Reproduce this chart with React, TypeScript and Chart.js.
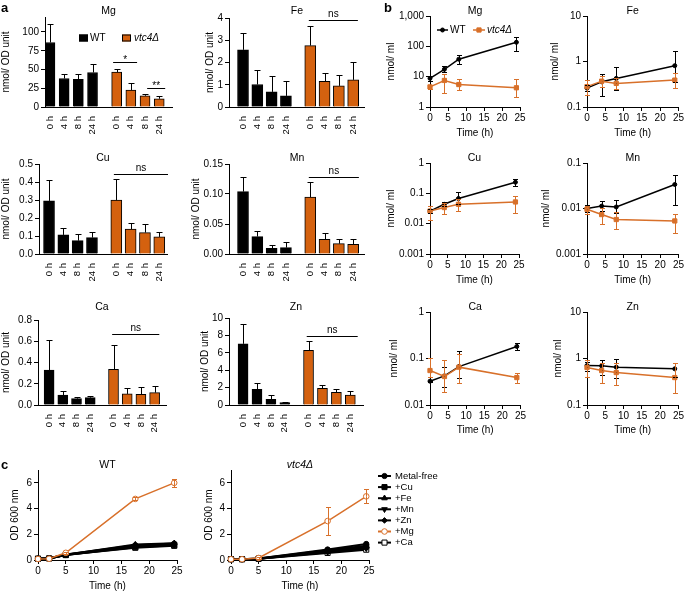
import React, { useEffect, useRef } from 'react';
import { Chart, registerables } from 'chart.js';

Chart.register(...registerables);

const FONT = '"Liberation Sans", Arial, Helvetica, sans-serif';
const BLACK = '#000000';
const ORANGE = '#D4610F';
const ORANGE_LINE = '#D8702A';
const TICK_SIZE = 10;
const LABEL_SIZE = 10;
const TITLE_SIZE = 10.5;

// ---------------- Panel a: cellular metal content (nmol / OD unit) ----------------
const BAR_TIMES = ['0 h', '4 h', '8 h', '24 h'];
const GROUP_GAP = 0.7;
const A_YTITLE = 'nmol/ OD unit';

const A_MG_WT = [86, 38, 37, 46];
const A_MG_WT_ERR = [25, 6, 7, 11];
const A_MG_VTC = [46.5, 22.5, 15, 11];
const A_MG_VTC_ERR = [4, 9, 3, 3.5];
const A_MG_YTICKS = [0, 25, 50, 75, 100];
const A_MG_YLABELS = ['0', '25', '50', '75', '100'];

const A_FE_WT = [2.57, 1.01, 0.68, 0.5];
const A_FE_WT_ERR = [0.75, 0.65, 0.71, 0.66];
const A_FE_VTC = [2.76, 1.15, 0.95, 1.22];
const A_FE_VTC_ERR = [0.9, 0.37, 0.5, 0.8];
const A_FE_YTICKS = [0, 1, 2, 3, 4];
const A_FE_YLABELS = ['0', '1', '2', '3', '4'];

const A_CU_WT = [0.295, 0.106, 0.074, 0.091];
const A_CU_WT_ERR = [0.115, 0.037, 0.037, 0.03];
const A_CU_VTC = [0.299, 0.138, 0.119, 0.095];
const A_CU_VTC_ERR = [0.117, 0.033, 0.046, 0.026];
const A_CU_YTICKS = [0, 0.1, 0.2, 0.3, 0.4, 0.5];
const A_CU_YLABELS = ['0.0', '0.1', '0.2', '0.3', '0.4', '0.5'];

const A_MN_WT = [0.104, 0.029, 0.0095, 0.0106];
const A_MN_WT_ERR = [0.024, 0.01, 0.0055, 0.009];
const A_MN_VTC = [0.095, 0.0245, 0.0172, 0.0162];
const A_MN_VTC_ERR = [0.025, 0.01, 0.0084, 0.0094];
const A_MN_YTICKS = [0, 0.05, 0.1, 0.15];
const A_MN_YLABELS = ['0.00', '0.05', '0.10', '0.15'];

const A_CA_WT = [0.329, 0.094, 0.06, 0.069];
const A_CA_WT_ERR = [0.283, 0.041, 0.015, 0.013];
const A_CA_VTC = [0.336, 0.104, 0.1, 0.116];
const A_CA_VTC_ERR = [0.232, 0.059, 0.066, 0.063];
const A_CA_YTICKS = [0, 0.2, 0.4, 0.6, 0.8];
const A_CA_YLABELS = ['0.0', '0.2', '0.4', '0.6', '0.8'];

const A_ZN_WT = [7.03, 1.81, 0.65, 0.27];
const A_ZN_WT_ERR = [2.31, 0.77, 0.46, 0.07];
const A_ZN_VTC = [6.27, 1.92, 1.46, 1.15];
const A_ZN_VTC_ERR = [1.08, 0.43, 0.39, 0.43];
const A_ZN_YTICKS = [0, 2, 4, 6, 8, 10];
const A_ZN_YLABELS = ['0', '2', '4', '6', '8', '10'];

// ---------------- Panel b: extracellular metal (nmol / ml), log scale ----------------
const B_TIMES = [0, 4, 8, 24];
const B_XTICKS = [0, 5, 10, 15, 20, 25];
const B_XLABELS = ['0', '5', '10', '15', '20', '25'];
const B_YTITLE = 'nmol/ ml';
const TIME_TITLE = 'Time (h)';

const B_MG_WT = [8.8, 17.5, 37.7, 136];
const B_MG_WT_HI = [10.9, 22.7, 52.5, 200];
const B_MG_WT_LO = [7.0, 14.2, 25.8, 71];
const B_MG_VTC = [4.6, 7.5, 5.5, 4.3];
const B_MG_VTC_HI = [5.5, 11.9, 8.1, 8.6];
const B_MG_VTC_LO = [4.0, 2.8, 3.6, 2.1];
const B_MG_YTICKS = [1, 10, 100, 1000];
const B_MG_YLABELS = ['1', '10', '100', '1,000'];

const B_FE_WT = [0.26, 0.358, 0.425, 0.81];
const B_FE_WT_HI = [0.3, 0.544, 0.757, 1.68];
const B_FE_WT_LO = [0.22, 0.178, 0.237, 0.358];
const B_FE_VTC = [0.28, 0.37, 0.33, 0.39];
const B_FE_VTC_HI = [0.39, 0.476, 0.437, 0.545];
const B_FE_VTC_LO = [0.185, 0.279, 0.249, 0.258];
const B_FE_YTICKS = [0.1, 1, 10];
const B_FE_YLABELS = ['0.1', '1', '10'];

const B_CU_WT = [0.026, 0.0435, 0.0675, 0.232];
const B_CU_WT_HI = [0.03, 0.052, 0.107, 0.299];
const B_CU_WT_LO = [0.022, 0.038, 0.0435, 0.17];
const B_CU_VTC = [0.026, 0.034, 0.0435, 0.052];
const B_CU_VTC_HI = [0.038, 0.0497, 0.0638, 0.0787];
const B_CU_VTC_LO = [0.0137, 0.0202, 0.026, 0.0229];
const B_CU_YTICKS = [0.001, 0.01, 0.1, 1];
const B_CU_YLABELS = ['0.001', '0.01', '0.1', '1'];

const B_MN_WT = [0.01, 0.0113, 0.0108, 0.0337];
const B_MN_WT_HI = [0.0117, 0.0144, 0.0151, 0.055];
const B_MN_WT_LO = [0.0084, 0.0088, 0.008, 0.0122];
const B_MN_VTC = [0.0096, 0.00736, 0.00573, 0.00533];
const B_MN_VTC_HI = [0.0112, 0.0105, 0.00826, 0.00774];
const B_MN_VTC_LO = [0.0075, 0.00468, 0.00346, 0.00292];
const B_MN_YTICKS = [0.001, 0.01, 0.1];
const B_MN_YLABELS = ['0.001', '0.01', '0.1'];

const B_CA_WT = [0.0325, 0.0423, 0.0671, 0.1816];
const B_CA_WT_HI = [0.0335, 0.0671, 0.1416, 0.215];
const B_CA_WT_LO = [0.0315, 0.0248, 0.0377, 0.154];
const B_CA_VTC = [0.0551, 0.041, 0.0652, 0.0389];
const B_CA_VTC_HI = [0.102, 0.0938, 0.126, 0.0499];
const B_CA_VTC_LO = [0.041, 0.0194, 0.0294, 0.0294];
const B_CA_YTICKS = [0.01, 0.1, 1];
const B_CA_YLABELS = ['0.01', '0.1', '1'];

const B_ZN_WT = [0.706, 0.695, 0.652, 0.6];
const B_ZN_WT_HI = [0.85, 0.938, 0.97, 0.794];
const B_ZN_WT_LO = [0.55, 0.445, 0.378, 0.41];
const B_ZN_VTC = [0.64, 0.551, 0.498, 0.389];
const B_ZN_VTC_HI = [0.938, 0.82, 0.794, 0.794];
const B_ZN_VTC_LO = [0.41, 0.294, 0.27, 0.179];
const B_ZN_YTICKS = [0.1, 1, 10];
const B_ZN_YLABELS = ['0.1', '1', '10'];

// ---------------- Panel c: growth (OD 600 nm) ----------------
const C_TIMES = [0, 2, 5, 17.5, 24.5];
const C_XTICKS = [0, 5, 10, 15, 20, 25];
const C_XLABELS = ['0', '5', '10', '15', '20', '25'];
const C_YTICKS = [0, 2, 4, 6];
const C_YLABELS = ['0', '2', '4', '6'];
const C_YTITLE = 'OD 600 nm';
const C_SERIES = ['Metal-free', '+Cu', '+Fe', '+Mn', '+Zn', '+Mg', '+Ca'];

const C_WT_FREE = [0.1, 0.13, 0.42, 1.15, 1.28];
const C_WT_CU = [0.1, 0.12, 0.38, 1.0, 1.15];
const C_WT_FE = [0.1, 0.13, 0.4, 1.2, 1.3];
const C_WT_MN = [0.1, 0.12, 0.4, 1.1, 1.22];
const C_WT_ZN = [0.1, 0.12, 0.38, 1.05, 1.18];
const C_WT_MG = [0.08, 0.1, 0.56, 4.75, 6.0];
const C_WT_MG_ERR = [0, 0, 0.08, 0.12, 0.3];
const C_WT_CA = [0.1, 0.12, 0.4, 0.95, 1.1];

const C_VTC_FREE = [0.06, 0.06, 0.12, 0.82, 1.25];
const C_VTC_CU = [0.06, 0.06, 0.1, 0.7, 1.05];
const C_VTC_FE = [0.06, 0.06, 0.12, 0.75, 1.1];
const C_VTC_MN = [0.06, 0.06, 0.1, 0.6, 0.9];
const C_VTC_ZN = [0.06, 0.06, 0.1, 0.65, 0.95];
const C_VTC_MG = [0.06, 0.06, 0.16, 3.03, 4.95];
const C_VTC_MG_ERR = [0, 0, 0.05, 1.06, 0.55];
const C_VTC_CA = [0.06, 0.06, 0.1, 0.55, 0.8];

// marker styles for panel c series (same order as C_SERIES)
const C_STYLES = [
  { pointStyle: 'circle', rotation: 0, filled: true, color: BLACK, r: 2.6 },
  { pointStyle: 'rect', rotation: 0, filled: true, color: BLACK, r: 3.6 },
  { pointStyle: 'triangle', rotation: 0, filled: true, color: BLACK, r: 3.2 },
  { pointStyle: 'triangle', rotation: 180, filled: true, color: BLACK, r: 3.2 },
  { pointStyle: 'rectRot', rotation: 0, filled: true, color: BLACK, r: 2.8 },
  { pointStyle: 'circle', rotation: 0, filled: false, color: ORANGE_LINE, r: 2.8 },
  { pointStyle: 'rect', rotation: 0, filled: false, color: BLACK, r: 3.6 },
];

// ---------------- helpers ----------------
function fontOf(size: number, style?: string) {
  return { family: FONT, size, style: style || 'normal', lineHeight: 1.2 };
}

function drawMarker(ctx: any, style: string, x: number, y: number, r: number, color: string, filled: boolean, rotation = 0) {
  ctx.save();
  ctx.translate(x, y);
  ctx.rotate((rotation * Math.PI) / 180);
  ctx.beginPath();
  if (style === 'circle') {
    ctx.arc(0, 0, r, 0, Math.PI * 2);
  } else if (style === 'rect') {
    const s = r * Math.SQRT1_2;
    ctx.rect(-s, -s, 2 * s, 2 * s);
  } else if (style === 'rectRot') {
    ctx.moveTo(0, -r); ctx.lineTo(r, 0); ctx.lineTo(0, r); ctx.lineTo(-r, 0); ctx.closePath();
  } else if (style === 'triangle') {
    ctx.moveTo(0, -r); ctx.lineTo(r * 0.87, r * 0.5); ctx.lineTo(-r * 0.87, r * 0.5); ctx.closePath();
  }
  ctx.fillStyle = filled ? color : '#ffffff';
  ctx.fill();
  ctx.strokeStyle = color;
  ctx.lineWidth = 1;
  ctx.stroke();
  ctx.restore();
}

const errorBarPlugin = {
  id: 'errorBars',
  afterDatasetsDraw(chart: any) {
    const ctx = chart.ctx;
    const ys = chart.scales.y;
    chart.data.datasets.forEach((ds: any, di: number) => {
      if (!ds.errHi) return;
      const meta = chart.getDatasetMeta(di);
      ctx.save();
      ctx.strokeStyle = ds.errColor || BLACK;
      ctx.lineWidth = 1;
      meta.data.forEach((el: any, i: number) => {
        const v = ds.data[i].y;
        const x = Math.round(el.x) + 0.5;
        const y0 = ys.getPixelForValue(v);
        const cap = ds.capWidth || 6;
        const seg = (val: number) => {
          if (val == null || val === v) return;
          const yy = Math.round(ys.getPixelForValue(val)) + 0.5;
          ctx.beginPath();
          ctx.moveTo(x, y0);
          ctx.lineTo(x, yy);
          ctx.moveTo(x - cap / 2, yy);
          ctx.lineTo(x + cap / 2, yy);
          ctx.stroke();
        };
        seg(ds.errHi[i]);
        if (ds.errLo) seg(ds.errLo[i]);
      });
      ctx.restore();
    });
  },
};

function makeDeco(d: any) {
  return {
    id: 'deco',
    afterDraw(chart: any) {
      const { ctx, chartArea: ca, scales } = chart;
      ctx.save();
      ctx.fillStyle = BLACK;
      ctx.strokeStyle = BLACK;
      ctx.lineWidth = 1;
      if (d.title) {
        ctx.font = `${d.title.italic ? 'italic ' : ''}${TITLE_SIZE}px ${FONT}`;
        ctx.textAlign = 'center';
        ctx.textBaseline = 'middle';
        ctx.fillText(d.title.text, (ca.left + ca.right) / 2, ca.top - d.title.dy);
      }
      for (const s of d.sig || []) {
        const x1 = scales.x.getPixelForValue(s.x1);
        const x2 = scales.x.getPixelForValue(s.x2);
        const y = Math.round(scales.y.getPixelForValue(s.y)) + 0.5;
        ctx.strokeStyle = BLACK;
        ctx.lineWidth = 1;
        ctx.beginPath();
        ctx.moveTo(x1, y);
        ctx.lineTo(x2, y);
        ctx.stroke();
        ctx.fillStyle = BLACK;
        ctx.font = `${TICK_SIZE}px ${FONT}`;
        ctx.textAlign = 'center';
        ctx.textBaseline = 'alphabetic';
        const off = s.label.startsWith('*') ? 0 : 3.5;
        ctx.fillText(s.label, (x1 + x2) / 2, y - off);
      }
      for (const it of d.legend || []) {
        const y = ca.top + it.dy;
        const x0 = ca.left + it.x0;
        const x1 = ca.left + it.x1;
        if (it.kind === 'box') {
          ctx.fillStyle = it.fill;
          ctx.fillRect(x0, y - 3.5, x1 - x0, 7);
          ctx.strokeStyle = BLACK;
          ctx.lineWidth = 1;
          ctx.strokeRect(x0 + 0.5, y - 3, x1 - x0 - 1, 6);
        } else {
          ctx.strokeStyle = it.color;
          ctx.lineWidth = it.lw || 1.5;
          ctx.beginPath();
          ctx.moveTo(x0, y);
          ctx.lineTo(x1, y);
          ctx.stroke();
          drawMarker(ctx, it.pointStyle, (x0 + x1) / 2, y, it.r, it.color, it.filled !== false, it.rotation || 0);
        }
        ctx.fillStyle = BLACK;
        ctx.font = `${it.italic ? 'italic ' : ''}${it.size || 10}px ${FONT}`;
        ctx.textAlign = 'left';
        ctx.textBaseline = 'middle';
        ctx.fillText(it.text, ca.left + it.tx, y);
      }
      ctx.restore();
    },
  };
}

function axisX(spec: any) {
  const { box, area, x } = spec;
  const xH = box.y + box.h - area.b;
  const lh = LABEL_SIZE * 1.2;
  return {
    type: 'linear',
    min: x.min,
    max: x.max,
    offset: false,
    bounds: 'data',
    afterFit: (s: any) => { s.height = xH; },
    afterBuildTicks: (s: any) => { s.ticks = x.ticks.map((v: number) => ({ value: v })); },
    ticks: {
      autoSkip: false,
      minRotation: x.rotate ? 90 : 0,
      maxRotation: x.rotate ? 90 : 0,
      padding: x.rotate ? 5 : (x.pad ?? 1),
      color: BLACK,
      font: fontOf(x.rotate ? 9.5 : TICK_SIZE),
      callback: (_v: any, i: number) => x.labels[i],
    },
    grid: { display: !x.rotate, drawOnChartArea: false, drawTicks: true, tickLength: 4, tickColor: BLACK, tickWidth: 1 },
    border: { display: true, color: BLACK, width: 1 },
    title: x.title
      ? { display: true, text: x.title, color: BLACK, font: fontOf(LABEL_SIZE), padding: { top: 0, bottom: box.y + box.h - lh / 2 - x.titleY } }
      : { display: false },
  };
}

function axisY(spec: any) {
  const { box, area, y } = spec;
  const yW = area.l - box.x;
  const lh = LABEL_SIZE * 1.2;
  return {
    type: y.type || 'linear',
    min: y.min,
    max: y.max,
    bounds: 'data',
    afterFit: (s: any) => { s.width = yW; },
    afterBuildTicks: (s: any) => { s.ticks = y.ticks.map((v: number) => ({ value: v })); },
    ticks: {
      autoSkip: false,
      padding: 2,
      color: BLACK,
      font: fontOf(TICK_SIZE),
      callback: (_v: any, i: number) => y.labels[i],
    },
    grid: { display: true, drawOnChartArea: false, drawTicks: true, tickLength: 4, tickColor: BLACK, tickWidth: 1 },
    border: { display: true, color: BLACK, width: 1 },
    title: {
      display: true,
      text: y.title,
      color: BLACK,
      font: fontOf(LABEL_SIZE),
      padding: { top: Math.max(0, y.titleX - box.x - lh / 2), bottom: 0 },
    },
  };
}

function buildConfig(spec: any) {
  const { box, area } = spec;
  return {
    type: spec.kind,
    data: { datasets: spec.datasets },
    options: {
      responsive: false,
      maintainAspectRatio: false,
      animation: false,
      events: [],
      layout: { padding: { left: 0, top: area.t - box.y, right: box.x + box.w - area.r, bottom: 0 } },
      plugins: { legend: { display: false }, title: { display: false }, tooltip: { enabled: false } },
      scales: { x: axisX(spec), y: axisY(spec) },
    },
    plugins: [errorBarPlugin, makeDeco(spec.deco || {})],
  };
}

// ---------------- panel builders ----------------
function barPanel(o: any) {
  const wtX = BAR_TIMES.map((_, i) => i);
  const vtcX = BAR_TIMES.map((_, i) => i + BAR_TIMES.length + GROUP_GAP);
  return {
    kind: 'bar',
    box: o.box,
    area: o.area,
    x: { min: o.xmin, max: o.xmax, ticks: [...wtX, ...vtcX], labels: [...BAR_TIMES, ...BAR_TIMES], rotate: true },
    y: { min: 0, max: o.ymax, ticks: o.yticks, labels: o.ylabels, title: A_YTITLE, titleX: o.yTitleX },
    datasets: [
      {
        label: 'WT',
        data: o.wt.map((v: number, i: number) => ({ x: wtX[i], y: v })),
        backgroundColor: BLACK,
        borderColor: BLACK,
        borderWidth: 1,
        barThickness: o.barW,
        grouped: false,
        errHi: o.wt.map((v: number, i: number) => v + o.wtErr[i]),
        errColor: BLACK,
        capWidth: 6,
      },
      {
        label: 'vtc4Δ',
        data: o.vtc.map((v: number, i: number) => ({ x: vtcX[i], y: v })),
        backgroundColor: ORANGE,
        borderColor: BLACK,
        borderWidth: 1,
        barThickness: o.barW,
        grouped: false,
        errHi: o.vtc.map((v: number, i: number) => v + o.vtcErr[i]),
        errColor: BLACK,
        capWidth: 6,
      },
    ],
    deco: { title: { text: o.title, dy: o.titleDy }, sig: o.sig, legend: o.legend },
  };
}

function logPanel(o: any) {
  const mk = (vals: number[], hi: number[], lo: number[], color: string, style: string, r: number, order: number, label: string) => ({
    type: 'line',
    label,
    data: vals.map((v, i) => ({ x: B_TIMES[i], y: v })),
    borderColor: color,
    backgroundColor: color,
    borderWidth: 1.5,
    pointStyle: style,
    pointRadius: r,
    pointBackgroundColor: color,
    pointBorderColor: color,
    pointBorderWidth: 1,
    tension: 0,
    clip: false,
    errHi: hi,
    errLo: lo,
    errColor: color,
    capWidth: 5,
    order,
  });
  return {
    kind: 'line',
    box: o.box,
    area: o.area,
    x: { min: 0, max: 25, ticks: B_XTICKS, labels: B_XLABELS, title: TIME_TITLE, titleY: o.xTitleY, pad: 1 },
    y: { type: 'logarithmic', min: o.ymin, max: o.ymax, ticks: o.yticks, labels: o.ylabels, title: B_YTITLE, titleX: o.yTitleX },
    datasets: [
      mk(o.wt, o.wtHi, o.wtLo, BLACK, 'circle', 2, 1, 'WT'),
      mk(o.vtc, o.vtcHi, o.vtcLo, ORANGE_LINE, 'rect', 3, 0, 'vtc4Δ'),
    ],
    deco: { title: { text: o.title, dy: o.titleDy }, legend: o.legend },
  };
}

function growthPanel(o: any) {
  const datasets = o.series.map((vals: number[], k: number) => {
    const st = C_STYLES[k];
    const isMg = C_SERIES[k] === '+Mg';
    return {
      type: 'line',
      label: C_SERIES[k],
      data: vals.map((v, i) => ({ x: C_TIMES[i], y: v })),
      borderColor: st.color,
      backgroundColor: st.color,
      borderWidth: isMg ? 1.5 : 2,
      pointStyle: st.pointStyle,
      rotation: st.rotation,
      pointRadius: st.r,
      pointBackgroundColor: st.filled ? st.color : '#ffffff',
      pointBorderColor: st.color,
      pointBorderWidth: 1,
      tension: 0,
      clip: false,
      errHi: isMg ? vals.map((v, i) => v + o.mgErr[i]) : undefined,
      errLo: isMg ? vals.map((v, i) => v - o.mgErr[i]) : undefined,
      errColor: st.color,
      capWidth: 5,
      order: isMg ? 0 : 1,
    };
  });
  return {
    kind: 'line',
    box: o.box,
    area: o.area,
    x: { min: 0, max: 25, ticks: C_XTICKS, labels: C_XLABELS, title: TIME_TITLE, titleY: o.xTitleY, pad: 1 },
    y: { min: 0, max: 7, ticks: C_YTICKS, labels: C_YLABELS, title: C_YTITLE, titleX: o.yTitleX },
    datasets,
    deco: { title: { text: o.title, dy: o.titleDy, italic: o.italic }, legend: o.legend },
  };
}

const C_LEGEND = C_SERIES.map((name, k) => ({
  kind: 'line',
  text: name,
  color: C_STYLES[k].color,
  pointStyle: C_STYLES[k].pointStyle,
  rotation: C_STYLES[k].rotation,
  filled: C_STYLES[k].filled,
  r: C_STYLES[k].r,
  lw: 2,
  x0: 147,
  x1: 160,
  tx: 164,
  dy: 6 + 11.1 * k,
  size: 9.5,
}));

const PANELS = [
  barPanel({
    box: { x: 0, y: 0, w: 185, h: 140 }, area: { l: 45, t: 17, r: 172, b: 107 },
    xmin: -0.35, xmax: 8.6, barW: 10, ymax: 120, yticks: A_MG_YTICKS, ylabels: A_MG_YLABELS, yTitleX: 6,
    wt: A_MG_WT, wtErr: A_MG_WT_ERR, vtc: A_MG_VTC, vtcErr: A_MG_VTC_ERR, title: 'Mg', titleDy: 5.5,
    sig: [{ x1: 4.45, x2: 6.14, y: 59.7, label: '*' }, { x1: 6.85, x2: 8.12, y: 26, label: '**' }],
    legend: [
      { kind: 'box', fill: BLACK, x0: 34, x1: 43, dy: 21, text: 'WT', tx: 45 },
      { kind: 'box', fill: ORANGE, x0: 77, x1: 86, dy: 21, text: 'vtc4Δ', tx: 89, italic: true },
    ],
  }),
  barPanel({
    box: { x: 185, y: 0, w: 185, h: 140 }, area: { l: 229, t: 18, r: 365, b: 107 },
    xmin: -0.98, xmax: 8.52, barW: 11, ymax: 4, yticks: A_FE_YTICKS, ylabels: A_FE_YLABELS, yTitleX: 210,
    wt: A_FE_WT, wtErr: A_FE_WT_ERR, vtc: A_FE_VTC, vtcErr: A_FE_VTC_ERR, title: 'Fe', titleDy: 6.5,
    sig: [{ x1: 4.6, x2: 8.03, y: 3.89, label: 'ns' }],
  }),
  barPanel({
    box: { x: 0, y: 140, w: 185, h: 150 }, area: { l: 39, t: 164, r: 167, b: 254 },
    xmin: -0.7, xmax: 8.24, barW: 11, ymax: 0.5, yticks: A_CU_YTICKS, ylabels: A_CU_YLABELS, yTitleX: 5,
    wt: A_CU_WT, wtErr: A_CU_WT_ERR, vtc: A_CU_VTC, vtcErr: A_CU_VTC_ERR, title: 'Cu', titleDy: 6,
    sig: [{ x1: 4.53, x2: 8.31, y: 0.447, label: 'ns' }],
  }),
  barPanel({
    box: { x: 185, y: 140, w: 185, h: 150 }, area: { l: 229, t: 164, r: 365, b: 254 },
    xmin: -0.98, xmax: 8.52, barW: 11, ymax: 0.15, yticks: A_MN_YTICKS, ylabels: A_MN_YLABELS, yTitleX: 196,
    wt: A_MN_WT, wtErr: A_MN_WT_ERR, vtc: A_MN_VTC, vtcErr: A_MN_VTC_ERR, title: 'Mn', titleDy: 6,
    sig: [{ x1: 4.6, x2: 8.1, y: 0.129, label: 'ns' }],
  }),
  barPanel({
    box: { x: 0, y: 290, w: 185, h: 150 }, area: { l: 38, t: 320, r: 166, b: 405 },
    xmin: -0.81, xmax: 8.53, barW: 10, ymax: 0.8, yticks: A_CA_YTICKS, ylabels: A_CA_YLABELS, yTitleX: 5,
    wt: A_CA_WT, wtErr: A_CA_WT_ERR, vtc: A_CA_VTC, vtcErr: A_CA_VTC_ERR, title: 'Ca', titleDy: 13.3,
    sig: [{ x1: 4.6, x2: 8.04, y: 0.665, label: 'ns' }],
  }),
  barPanel({
    box: { x: 185, y: 290, w: 185, h: 150 }, area: { l: 229, t: 318, r: 363, b: 405 },
    xmin: -1.01, xmax: 8.61, barW: 10, ymax: 10, yticks: A_ZN_YTICKS, ylabels: A_ZN_YLABELS, yTitleX: 205,
    wt: A_ZN_WT, wtErr: A_ZN_WT_ERR, vtc: A_ZN_VTC, vtcErr: A_ZN_VTC_ERR, title: 'Zn', titleDy: 10.7,
    sig: [{ x1: 4.57, x2: 8.23, y: 7.96, label: 'ns' }],
  }),
  logPanel({
    box: { x: 370, y: 0, w: 157, h: 140 }, area: { l: 430, t: 16, r: 520, b: 107 },
    ymin: 1, ymax: 1000, yticks: B_MG_YTICKS, ylabels: B_MG_YLABELS, yTitleX: 391.7, xTitleY: 133,
    wt: B_MG_WT, wtHi: B_MG_WT_HI, wtLo: B_MG_WT_LO, vtc: B_MG_VTC, vtcHi: B_MG_VTC_HI, vtcLo: B_MG_VTC_LO,
    title: 'Mg', titleDy: 4.5,
    legend: [
      { kind: 'line', color: BLACK, pointStyle: 'circle', r: 2, x0: 7, x1: 18, tx: 20, dy: 14, text: 'WT' },
      { kind: 'line', color: ORANGE_LINE, pointStyle: 'rect', r: 3, x0: 43, x1: 55, tx: 57, dy: 14, text: 'vtc4Δ', italic: true },
    ],
  }),
  logPanel({
    box: { x: 527, y: 0, w: 158, h: 140 }, area: { l: 587, t: 16, r: 679, b: 107 },
    ymin: 0.1, ymax: 10, yticks: B_FE_YTICKS, ylabels: B_FE_YLABELS, yTitleX: 555.5, xTitleY: 133,
    wt: B_FE_WT, wtHi: B_FE_WT_HI, wtLo: B_FE_WT_LO, vtc: B_FE_VTC, vtcHi: B_FE_VTC_HI, vtcLo: B_FE_VTC_LO,
    title: 'Fe', titleDy: 4.5,
  }),
  logPanel({
    box: { x: 370, y: 140, w: 157, h: 150 }, area: { l: 430, t: 163, r: 519, b: 254 },
    ymin: 0.001, ymax: 1, yticks: B_CU_YTICKS, ylabels: B_CU_YLABELS, yTitleX: 391.7, xTitleY: 280,
    wt: B_CU_WT, wtHi: B_CU_WT_HI, wtLo: B_CU_WT_LO, vtc: B_CU_VTC, vtcHi: B_CU_VTC_HI, vtcLo: B_CU_VTC_LO,
    title: 'Cu', titleDy: 5,
  }),
  logPanel({
    box: { x: 527, y: 140, w: 158, h: 150 }, area: { l: 587, t: 163, r: 679, b: 254 },
    ymin: 0.001, ymax: 0.1, yticks: B_MN_YTICKS, ylabels: B_MN_YLABELS, yTitleX: 546.7, xTitleY: 280,
    wt: B_MN_WT, wtHi: B_MN_WT_HI, wtLo: B_MN_WT_LO, vtc: B_MN_VTC, vtcHi: B_MN_VTC_HI, vtcLo: B_MN_VTC_LO,
    title: 'Mn', titleDy: 5,
  }),
  logPanel({
    box: { x: 370, y: 290, w: 157, h: 150 }, area: { l: 430, t: 312, r: 522, b: 405 },
    ymin: 0.01, ymax: 1, yticks: B_CA_YTICKS, ylabels: B_CA_YLABELS, yTitleX: 394, xTitleY: 430,
    wt: B_CA_WT, wtHi: B_CA_WT_HI, wtLo: B_CA_WT_LO, vtc: B_CA_VTC, vtcHi: B_CA_VTC_HI, vtcLo: B_CA_VTC_LO,
    title: 'Ca', titleDy: 5,
  }),
  logPanel({
    box: { x: 527, y: 290, w: 158, h: 150 }, area: { l: 587, t: 312, r: 679, b: 405 },
    ymin: 0.1, ymax: 10, yticks: B_ZN_YTICKS, ylabels: B_ZN_YLABELS, yTitleX: 558.3, xTitleY: 430,
    wt: B_ZN_WT, wtHi: B_ZN_WT_HI, wtLo: B_ZN_WT_LO, vtc: B_ZN_VTC, vtcHi: B_ZN_VTC_HI, vtcLo: B_ZN_VTC_LO,
    title: 'Zn', titleDy: 5,
  }),
  growthPanel({
    box: { x: 0, y: 440, w: 190, h: 153 }, area: { l: 38, t: 470, r: 177, b: 560 },
    series: [C_WT_FREE, C_WT_CU, C_WT_FE, C_WT_MN, C_WT_ZN, C_WT_MG, C_WT_CA], mgErr: C_WT_MG_ERR,
    yTitleX: 15, xTitleY: 586, title: 'WT', titleDy: 5,
  }),
  growthPanel({
    box: { x: 190, y: 440, w: 280, h: 153 }, area: { l: 231, t: 470, r: 369, b: 560 },
    series: [C_VTC_FREE, C_VTC_CU, C_VTC_FE, C_VTC_MN, C_VTC_ZN, C_VTC_MG, C_VTC_CA], mgErr: C_VTC_MG_ERR,
    yTitleX: 209.6, xTitleY: 586, title: 'vtc4Δ', titleDy: 5, italic: true, legend: C_LEGEND,
  }),
];

function PanelCanvas({ spec }: { spec: any }) {
  const ref = useRef<HTMLCanvasElement>(null);
  useEffect(() => {
    const chart = new Chart(ref.current as HTMLCanvasElement, buildConfig(spec) as any);
    return () => chart.destroy();
  }, [spec]);
  const { x, y, w, h } = spec.box;
  return (
    <canvas
      ref={ref}
      width={w}
      height={h}
      style={{ position: 'absolute', left: x, top: y, width: w, height: h }}
    />
  );
}

const letterStyle = (left: number, top: number): React.CSSProperties => ({
  position: 'absolute',
  left,
  top,
  font: `bold 13px ${FONT}`,
  color: BLACK,
  lineHeight: '15px',
});

export default function App() {
  return (
    <div style={{ position: 'absolute', left: 0, top: 0, width: 685, height: 593, background: '#ffffff', overflow: 'hidden' }}>
      {PANELS.map((p, i) => (
        <PanelCanvas key={i} spec={p} />
      ))}
      <div style={letterStyle(1, 0)}>a</div>
      <div style={letterStyle(384, 0)}>b</div>
      <div style={letterStyle(1, 457)}>c</div>
    </div>
  );
}
